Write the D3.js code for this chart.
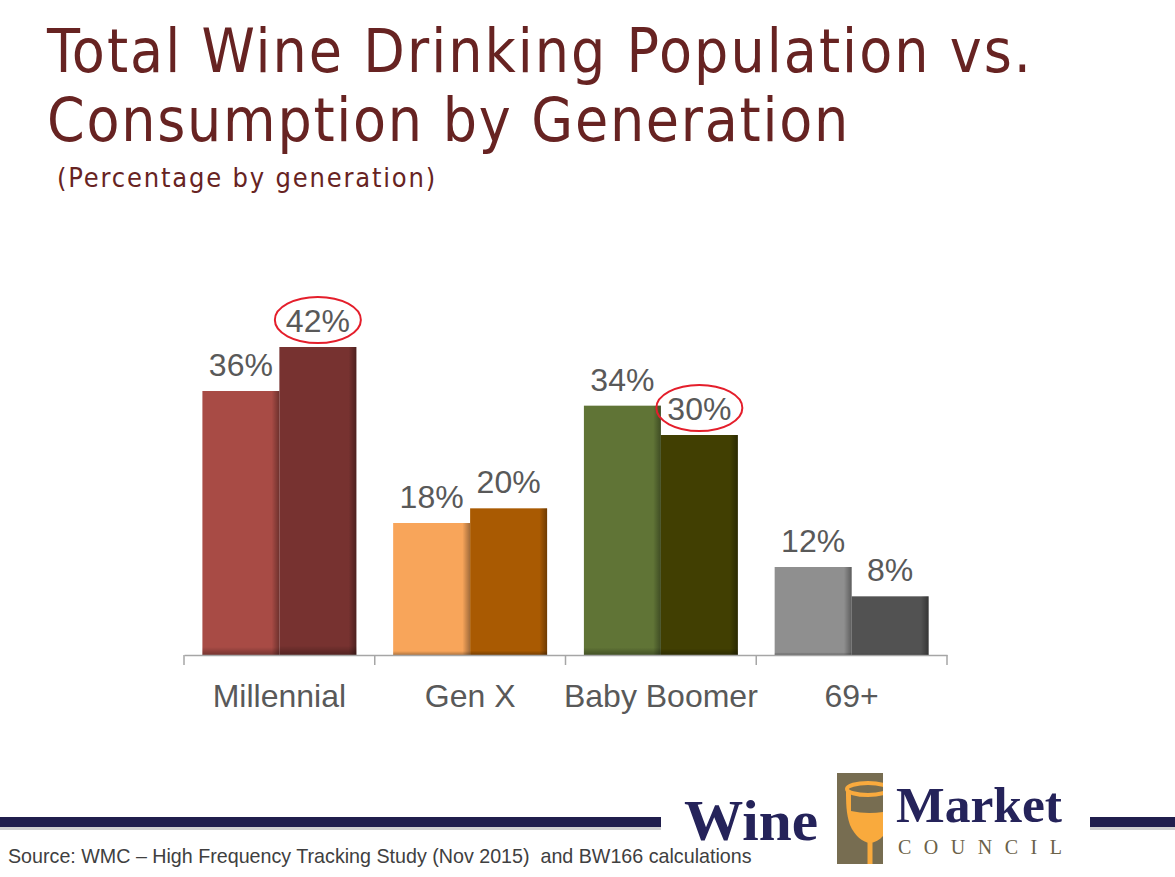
<!DOCTYPE html>
<html>
<head>
<meta charset="utf-8">
<title>Total Wine Drinking Population vs. Consumption by Generation</title>
<script src="https://cdn.jsdelivr.net/npm/d3@7"></script>
<style>
  html, body { margin: 0; padding: 0; background: #ffffff; }
  svg { display: block; }
</style>
</head>
<body>
<div id="chart"></div>
<script>
'use strict';

// chart data
const generations = ["Millennial", "Gen X", "Baby Boomer", "69+"];
const seriesNames = ["Population", "Consumption"];
const populationPct = [36, 18, 34, 12];
const consumptionPct = [42, 20, 30, 8];
// which labels get the red ring: [generation, series]
const circledLabels = [["Millennial", "Consumption"], ["Baby Boomer", "Consumption"]];

const titleLines = ["Total Wine Drinking Population vs.", "Consumption by Generation"];
const subtitleText = "(Percentage by generation)";
const sourceText = "Source: WMC \u2013 High Frequency Tracking Study (Nov 2015)\u00a0\u00a0and BW166 calculations";

// bar colours per generation: [population, consumption]
const barColors = {
    "Millennial": ["#a84b45", "#773230"],
    "Gen X": ["#f8a55a", "#a95a02"],
    "Baby Boomer": ["#607436", "#413f02"],
    "69+": ["#8f8f8f", "#525252"]
};

//------------------------------------------------------------
// setup
//------------------------------------------------------------
{ // start scope

const width = 1175;
const height = 877;
const titleColor = "#672322";
const labelColor = "#595959";
const navy = "#201e4d";
const taupe = "#776d51";
const gold = "#f9aa3d";

const svg = d3.select("#chart")
    .append("svg")
    .attr("width", width)
    .attr("height", height);

svg.append("rect").attr("width", width).attr("height", height).attr("fill", "#ffffff");

const defs = svg.append("defs");

// soft bevel on the right and bottom edge of each bar
let gradRight = defs.append("linearGradient").attr("id", "shadeRight")
    .attr("x1", 0).attr("x2", 1).attr("y1", 0).attr("y2", 0);
gradRight.append("stop").attr("offset", "0.9").attr("stop-color", "#000").attr("stop-opacity", 0);
gradRight.append("stop").attr("offset", "1").attr("stop-color", "#000").attr("stop-opacity", 0.35);

let gradBottom = defs.append("linearGradient").attr("id", "shadeBottom")
    .attr("x1", 0).attr("x2", 0).attr("y1", 0).attr("y2", 1);
gradBottom.append("stop").attr("offset", "0.97").attr("stop-color", "#000").attr("stop-opacity", 0);
gradBottom.append("stop").attr("offset", "1").attr("stop-color", "#000").attr("stop-opacity", 0.3);

//------------------------------------------------------------
// titles
//------------------------------------------------------------
// spread the letters so the line ends where the slide's does
const fitSpacing = (sel, target) => {
    let w = sel.node().getComputedTextLength();
    let n = sel.text().length;
    sel.attr("letter-spacing", (target - w) / n);
};

let t1 = svg.append("text")
    .attr("x", 47).attr("y", 72)
    .attr("font-family", "DejaVu Sans Condensed, DejaVu Sans").attr("font-size", 60)
    .attr("fill", titleColor)
    .text(titleLines[0]);
fitSpacing(t1, 986);

let t2 = svg.append("text")
    .attr("x", 47).attr("y", 141)
    .attr("font-family", "DejaVu Sans Condensed, DejaVu Sans").attr("font-size", 60)
    .attr("fill", titleColor)
    .text(titleLines[1]);
fitSpacing(t2, 803);

let st = svg.append("text")
    .attr("x", 57).attr("y", 187)
    .attr("font-family", "DejaVu Sans Condensed, DejaVu Sans").attr("font-size", 27)
    .attr("fill", titleColor)
    .text(subtitleText);
fitSpacing(st, 380);

//------------------------------------------------------------
// scales
//------------------------------------------------------------
const x0 = d3.scaleBand()
    .domain(generations)
    .range([184, 947])
    .paddingInner(0.193)
    .paddingOuter(0.0965);

const x1 = d3.scaleBand()
    .domain(seriesNames)
    .range([0, x0.bandwidth()]);

const y = d3.scaleLinear()
    .domain([0, 45])
    .range([655, 325]);

const rows = generations.map((g, i) => ({
    gen: g,
    values: [
        { series: seriesNames[0], value: populationPct[i] },
        { series: seriesNames[1], value: consumptionPct[i] }
    ]
}));

//------------------------------------------------------------
// bars
//------------------------------------------------------------
const groups = svg.append("g")
    .selectAll("g")
    .data(rows)
    .enter()
    .append("g")
    .attr("transform", (d) => "translate(" + x0(d.gen) + ",0)");

const bars = groups.selectAll("g.bar")
    .data((d) => d.values.map((v, j) => ({ gen: d.gen, series: v.series, value: v.value, idx: j })))
    .enter()
    .append("g")
    .attr("class", "bar");

bars.append("rect")
    .attr("x", (d) => x1(d.series))
    .attr("y", (d) => y(d.value))
    .attr("width", x1.bandwidth())
    .attr("height", (d) => y(0) - y(d.value))
    .attr("fill", (d) => barColors[d.gen][d.idx]);

bars.append("rect")
    .attr("x", (d) => x1(d.series))
    .attr("y", (d) => y(d.value))
    .attr("width", x1.bandwidth())
    .attr("height", (d) => y(0) - y(d.value))
    .attr("fill", "url(#shadeRight)");

bars.append("rect")
    .attr("x", (d) => x1(d.series))
    .attr("y", (d) => y(d.value))
    .attr("width", x1.bandwidth())
    .attr("height", (d) => y(0) - y(d.value))
    .attr("fill", "url(#shadeBottom)");

// value labels
bars.append("text")
    .attr("x", (d) => x1(d.series) + x1.bandwidth() / 2)
    .attr("y", (d) => y(d.value) - 15)
    .attr("text-anchor", "middle")
    .attr("font-family", "Liberation Sans, Arial, sans-serif")
    .attr("font-size", 32)
    .attr("fill", labelColor)
    .text((d) => d.value + "%");

// red rings round the highlighted labels
bars.filter((d) => circledLabels.some((c) => c[0] == d.gen && c[1] == d.series))
    .append("ellipse")
    .attr("cx", (d) => x1(d.series) + x1.bandwidth() / 2)
    .attr("cy", (d) => y(d.value) - 27)
    .attr("rx", 43)
    .attr("ry", 23)
    .attr("fill", "none")
    .attr("stroke", "#e41e2b")
    .attr("stroke-width", 2);

//------------------------------------------------------------
// axis
//------------------------------------------------------------
const axis = svg.append("g")
    .attr("transform", "translate(0," + y(0) + ")")
    .call(d3.axisBottom(x0).tickSize(0).tickSizeOuter(0));

axis.select(".domain").attr("stroke", "#a6a6a6").attr("stroke-width", 1.5);
axis.selectAll(".tick text")
    .attr("y", 52)
    .attr("dy", 0)
    .attr("font-family", "Liberation Sans, Arial, sans-serif")
    .attr("font-size", 32)
    .attr("fill", labelColor);

// tick marks sit between the groups
const boundaries = d3.range(generations.length + 1).map((i) => x0.range()[0] + i * x0.step());
axis.selectAll("line.sep")
    .data(boundaries)
    .enter()
    .append("line")
    .attr("class", "sep")
    .attr("x1", (d) => d).attr("x2", (d) => d)
    .attr("y1", 0).attr("y2", 10)
    .attr("stroke", "#a6a6a6")
    .attr("stroke-width", 1.5);

//------------------------------------------------------------
// footer: rule, source and logo
//------------------------------------------------------------
svg.append("rect").attr("x", 0).attr("y", 827).attr("width", 661).attr("height", 3).attr("fill", "#d0d0d0");
svg.append("rect").attr("x", 1090).attr("y", 827).attr("width", 85).attr("height", 3).attr("fill", "#d0d0d0");
svg.append("rect").attr("x", 0).attr("y", 817).attr("width", 661).attr("height", 10).attr("fill", navy);
svg.append("rect").attr("x", 1090).attr("y", 817).attr("width", 85).attr("height", 10).attr("fill", navy);

let src = svg.append("text")
    .attr("x", 8).attr("y", 863)
    .attr("font-family", "Liberation Sans, Arial, sans-serif")
    .attr("font-size", 19)
    .attr("fill", "#404040")
    .text(sourceText);
let srcW = src.node().getComputedTextLength();
src.attr("font-size", 19 * 744 / srcW);

const logo = svg.append("g");

logo.append("text")
    .attr("x", 684).attr("y", 840)
    .attr("font-family", "Liberation Serif, serif")
    .attr("font-weight", "bold")
    .attr("font-size", 57)
    .attr("textLength", 134)
    .attr("lengthAdjust", "spacingAndGlyphs")
    .attr("fill", "#25235a")
    .text("Wine");

logo.append("text")
    .attr("x", 896).attr("y", 822)
    .attr("font-family", "Liberation Serif, serif")
    .attr("font-weight", "bold")
    .attr("font-size", 51)
    .attr("textLength", 166)
    .attr("lengthAdjust", "spacingAndGlyphs")
    .attr("fill", "#25235a")
    .text("Market");

logo.append("text")
    .attr("x", 898).attr("y", 854)
    .attr("font-family", "Liberation Serif, serif")
    .attr("font-size", 20)
    .attr("textLength", 164)
    .attr("lengthAdjust", "spacing")
    .attr("fill", "#6b6249")
    .text("COUNCIL");

defs.append("clipPath").attr("id", "logoClip")
    .append("rect").attr("x", 837).attr("y", 773).attr("width", 46).attr("height", 91);

logo.append("rect")
    .attr("x", 837).attr("y", 773).attr("width", 46).attr("height", 91)
    .attr("fill", taupe);

const glass = logo.append("g").attr("clip-path", "url(#logoClip)");

glass.append("path")
    .attr("d", "M846,789 C846,802 846,814 850,825 C855,836 862,842 870,843 C879,842 886,835 889,825 L889,789 Z")
    .attr("fill", gold);
glass.append("path")
    .attr("d", "M851,792 L889,792 L889,811 Q869,815 851,811 Z")
    .attr("fill", taupe);
glass.append("ellipse")
    .attr("cx", 868).attr("cy", 789).attr("rx", 21).attr("ry", 6)
    .attr("fill", taupe)
    .attr("stroke", gold)
    .attr("stroke-width", 4);
glass.append("rect")
    .attr("x", 867.5).attr("y", 840).attr("width", 5).attr("height", 24)
    .attr("fill", gold);

} // end scope
</script>
</body>
</html>
